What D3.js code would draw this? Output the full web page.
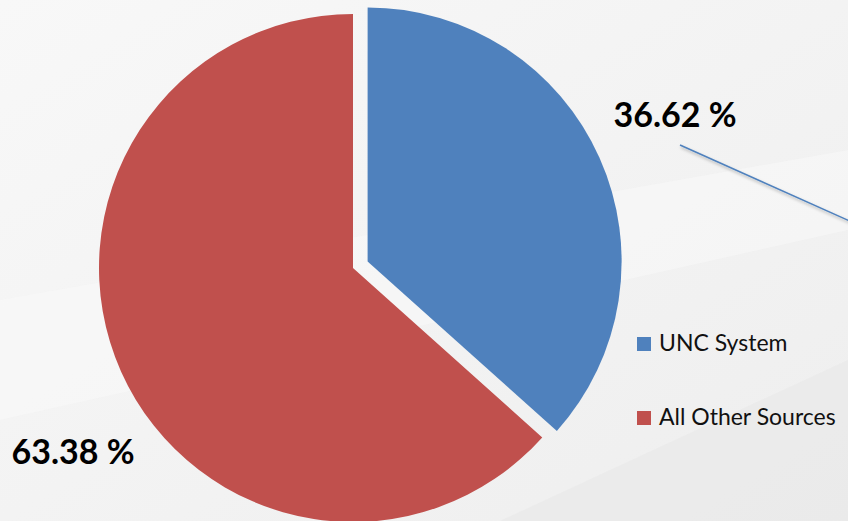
<!DOCTYPE html>
<meta charset="utf-8">
<head>
<title>Pie</title>
<script src="https://d3js.org/d3.v7.min.js"></script>
<style>
  body { margin: 0; }
  text { font-family: Lato, "Open Sans", sans-serif; }
</style>
</head>
<body>
<div id="chart"></div>
<script>
    let categories = ["UNC System", "All Other Sources"];
    let values = [36.62, 63.38];
    let colors = ["#4f81bd", "#c0504d"];

    let w = 848, h = 521;
    let cx = 353, cy = 268, r = 254;
    let explode = 16;

    let svg = d3.select("#chart").append("svg")
        .attr("width", w)
        .attr("height", h);

    // background, light grey with a few soft diagonal shapes
    let defs = svg.append("defs");
    let bg = defs.append("linearGradient").attr("id", "bg")
        .attr("x1", 0).attr("y1", 0).attr("x2", 1).attr("y2", 1);
    bg.append("stop").attr("offset", "0%").attr("stop-color", "#f8f8f8");
    bg.append("stop").attr("offset", "100%").attr("stop-color", "#eeeeee");
    svg.append("rect").attr("width", w).attr("height", h).attr("fill", "url(#bg)");
    svg.append("path").attr("d", "M0,300 L848,150 L848,230 L0,420 Z").attr("fill", "#fafafa").attr("opacity", 0.5);
    svg.append("path").attr("d", "M500,521 L848,360 L848,521 Z").attr("fill", "#e8e8e8").attr("opacity", 0.6);

    let shadow = defs.append("filter").attr("id", "shadow")
        .attr("x", "-20%").attr("y", "-20%").attr("width", "140%").attr("height", "140%");
    shadow.append("feDropShadow").attr("dx", 1).attr("dy", 2).attr("stdDeviation", 1.5)
        .attr("flood-color", "#000").attr("flood-opacity", 0.3);

    let pie = d3.pie().sort(null)(values);
    let arc = d3.arc().innerRadius(0).outerRadius(r);

    let g = svg.append("g").attr("transform", "translate(" + cx + "," + cy + ")");

    g.selectAll("path")
        .data(pie)
        .enter()
        .append("path")
        .attr("d", arc)
        .attr("fill", (d, i) => colors[i])
        .attr("transform", (d, i) => {
            if (i != 0) return null;
            let a = (d.startAngle + d.endAngle) / 2;
            return "translate(" + (Math.sin(a) * explode) + "," + (-Math.cos(a) * explode) + ")";
        });

    // leader line off the blue label
    svg.append("line")
        .attr("x1", cx + 327).attr("y1", cy - 123)
        .attr("x2", cx + 510).attr("y2", cy - 41)
        .attr("stroke", "#4f81bd")
        .attr("stroke-width", 1.5)
        .attr("filter", "url(#shadow)");

    // percentage labels
    let labelPos = [[cx + 322, cy - 141], [cx - 280, cy + 196]];
    svg.selectAll("text.pct")
        .data(values)
        .enter()
        .append("text")
        .attr("class", "pct")
        .attr("x", (d, i) => labelPos[i][0])
        .attr("y", (d, i) => labelPos[i][1])
        .attr("text-anchor", "middle")
        .style("font-size", "34px")
        .style("font-weight", "bold")
        .text((d) => d.toFixed(2) + " %");

    // legend
    let legend = svg.selectAll("g.legend")
        .data(categories)
        .enter()
        .append("g")
        .attr("class", "legend")
        .attr("transform", (d, i) => "translate(637," + (337 + i * 74) + ")");

    legend.append("rect")
        .attr("width", 14)
        .attr("height", 14)
        .attr("fill", (d, i) => colors[i]);

    legend.append("text")
        .attr("x", 22)
        .attr("y", 14)
        .style("font-size", "23px")
        .style("fill", "#111")
        .text((d) => d);
</script>
</body>
